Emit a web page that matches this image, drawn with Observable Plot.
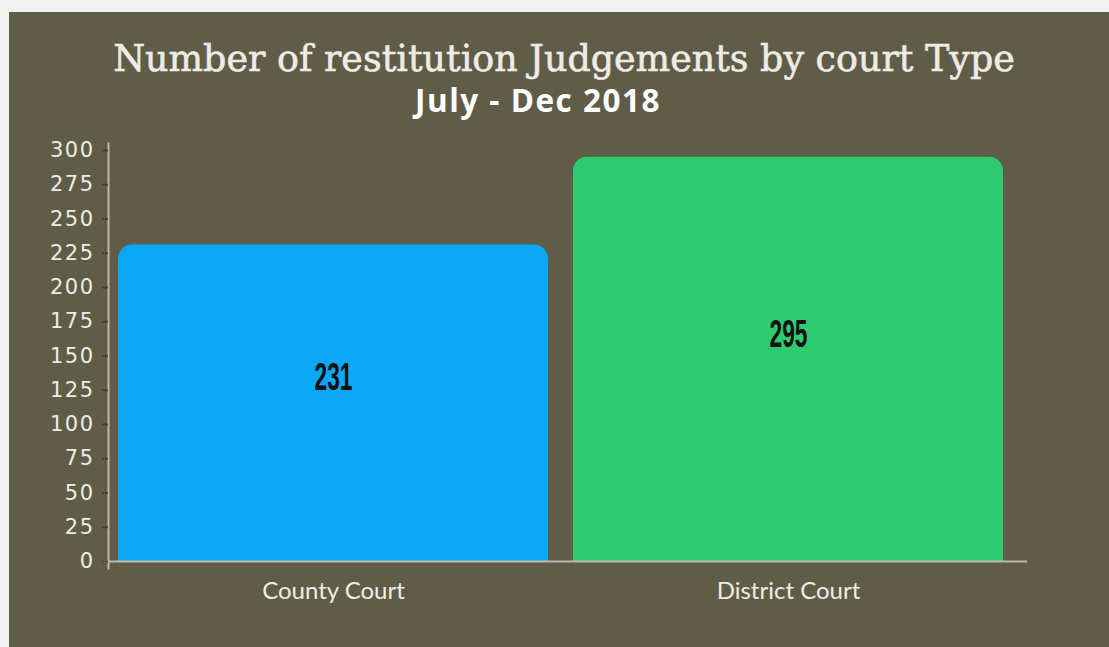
<!DOCTYPE html>
<html>
<head>
<meta charset="utf-8">
<script src="https://cdn.jsdelivr.net/npm/d3@7"></script>
<script src="https://cdn.jsdelivr.net/npm/@observablehq/plot@0.6"></script>
<style>
  html, body { margin: 0; padding: 0; background: #f1f1f1; width: 1109px; height: 647px; overflow: hidden; }
  #panel { position: absolute; left: 9px; top: 12px; width: 1100px; height: 635px; background: #5f5c48; }
  #title { position: absolute; left: 0; top: 29px; width: 1110px; text-align: center; white-space: nowrap;
           font-family: "DejaVu Serif", serif; font-size: 36px; color: #efebe6; line-height: 1;
           -webkit-text-stroke: 0.6px #efebe6; }
  #subtitle { position: absolute; left: 0; top: 73px; width: 1058px; text-align: center; white-space: nowrap;
           font-family: "Open Sans", "DejaVu Sans", sans-serif; font-weight: 700; font-size: 30px; color: #ffffff; letter-spacing: 1.5px; line-height: 1; }
  #chart { position: absolute; left: 0; top: 0; }
  #title span, #subtitle span { display: inline-block; }
</style>
</head>
<body>
<div id="panel">
  <div id="chart"></div>
  <div id="title"><span>Number of restitution Judgements by court Type</span></div>
  <div id="subtitle"><span>July - Dec 2018</span></div>
</div>
<script>
const categories = ["County Court", "District Court"];
const values = [231, 295];
const colors = ["#0aa8f7", "#2ecc71"];
const yTicks = [0, 25, 50, 75, 100, 125, 150, 175, 200, 225, 250, 275, 300];

const data = categories.map((c, i) => ({court: c, value: values[i], color: colors[i]}));

function fit(sel, target, baseline, ascentRatio) {
  const span = document.querySelector(sel + " span");
  const el = document.querySelector(sel);
  const fs = parseFloat(getComputedStyle(el).fontSize);
  const w = span.getBoundingClientRect().width;
  const nfs = fs * target / w;
  el.style.fontSize = nfs + "px";
  el.style.top = (baseline - ascentRatio * nfs) + "px";
}
fit("#title", 902, 60, 0.846);
fit("#subtitle", 247, 99.7, 0.888);

const chart = Plot.plot({
  width: 1100,
  height: 635,
  marginLeft: 99,
  marginRight: 82,
  marginTop: 131,
  marginBottom: 79,
  style: {background: "transparent", overflow: "visible"},
  x: {domain: categories, range: [99, 1005], paddingInner: 0.054, paddingOuter: 0.022, label: null},
  y: {domain: [0, 300], range: [549, 138], label: null},
  marks: [
    Plot.barY(data, {x: "court", y: "value", fill: "color", rx: 14}),
    Plot.barY(data, {x: "court", y1: 0, y2: d => d.value - 20, fill: "color"}),
    Plot.frame({anchor: "left", stroke: "#bdb9ad", strokeWidth: 2}),
    Plot.ruleY([0], {stroke: "#bdb9ad", strokeWidth: 2, insetLeft: -5}),
    Plot.axisY({ticks: yTicks, tickSize: 6, tickPadding: 8, stroke: "#44422f", strokeWidth: 2, fill: "#efece6",
                fontSize: 21, fontFamily: "'DejaVu Sans', sans-serif", label: null, className: "yax"}),
    Plot.axisX({tickSize: 0, tickPadding: 13, fill: "#efece6", fontSize: 24,
                fontFamily: "Lato, 'Open Sans', sans-serif", label: null}),
    Plot.text(data, {x: "court", y: d => d.value / 2, text: d => String(d.value), dy: -25,
                     fill: "#111111", fontSize: 38, fontWeight: "bold", className: "barlabel",
                     fontFamily: "'Liberation Sans', Arial, sans-serif"})
  ]
});
document.getElementById("chart").appendChild(chart);

// condense the bar value labels horizontally
chart.querySelectorAll(".barlabel text").forEach(t => {
  const tr = t.getAttribute("transform");
  if (tr) {
    t.setAttribute("transform", tr + " scale(0.6,1)");
  } else {
    const cx = +t.getAttribute("x") || 0;
    t.setAttribute("transform", `translate(${cx},0) scale(0.6,1) translate(${-cx},0)`);
  }
});
chart.querySelectorAll(".yax text").forEach(t => {
  t.style.fontSize = "21px";
  t.style.fontFamily = "'DejaVu Sans', sans-serif";
  t.style.letterSpacing = "1.5px";
});
</script>
</body>
</html>
